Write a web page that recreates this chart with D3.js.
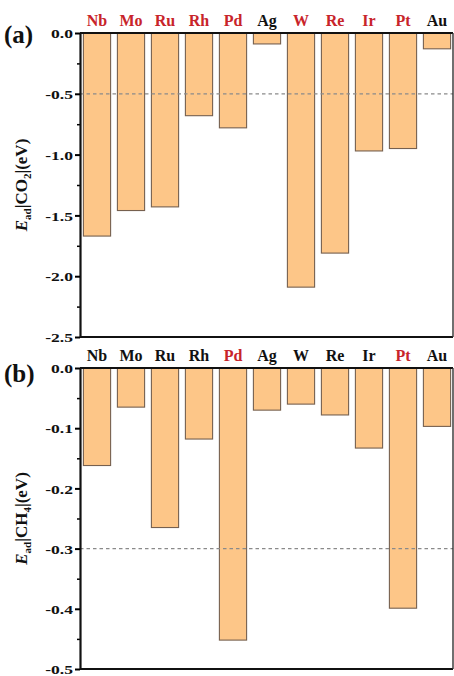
<!DOCTYPE html>
<html>
<head>
<meta charset="utf-8">
<script src="https://cdn.jsdelivr.net/npm/d3@7"></script>
<style>
  body { margin: 0; background: #fff; }
  svg text { font-family: "Liberation Serif", "DejaVu Serif", serif; font-weight: bold; }
</style>
</head>
<body>
<div id="chart"></div>
<script>
const width = 454
const height = 676

const metals = ["Nb", "Mo", "Ru", "Rh", "Pd", "Ag", "W", "Re", "Ir", "Pt", "Au"]
const co2Values = [-1.67, -1.46, -1.43, -0.68, -0.78, -0.09, -2.09, -1.81, -0.97, -0.95, -0.13]
const ch4Values = [-0.162, -0.065, -0.265, -0.118, -0.452, -0.07, -0.06, -0.078, -0.133, -0.399, -0.097]
const co2Red = ["Nb", "Mo", "Ru", "Rh", "Pd", "W", "Re", "Ir", "Pt"]
const ch4Red = ["Pd", "Pt"]
const co2Ticks = [0, -0.5, -1.0, -1.5, -2.0, -2.5]
const ch4Ticks = [0, -0.1, -0.2, -0.3, -0.4, -0.5]

const svg = d3.select("#chart")
    .append("svg")
    .attr("width", width)
    .attr("height", height)

const x = d3.scaleBand()
    .domain(metals)
    .range([80, 454])
    .paddingInner(0.2)
    .paddingOuter(0.1)

const tickFmt = d => d === 0 ? "0.0" : "-" + Math.abs(d).toFixed(1)
const sx = 1.35 // tick labels in the source are wide

function panel(cfg) {
    const y = d3.scaleLinear()
        .domain([0, cfg.min])
        .range([cfg.top, cfg.bottom])

    const g = svg.append("g")

    // bars
    g.selectAll("rect.bar")
        .data(metals)
        .enter()
        .append("rect")
        .attr("class", "bar")
        .attr("x", d => x(d))
        .attr("width", x.bandwidth())
        .attr("y", y(0))
        .attr("height", (d, i) => y(cfg.values[i]) - y(0))
        .attr("fill", "#fdc688")
        .attr("stroke", "#76604f")
        .attr("stroke-width", 1.1)

    // dashed reference line
    g.append("line")
        .attr("x1", 80)
        .attr("x2", 453)
        .attr("y1", y(cfg.ref))
        .attr("y2", y(cfg.ref))
        .attr("stroke", "#8a8a8a")
        .attr("stroke-width", 1.2)
        .attr("stroke-dasharray", "3.5,3")

    // frame
    g.append("line")
        .attr("x1", 80).attr("x2", 453)
        .attr("y1", y(0)).attr("y2", y(0))
        .attr("stroke", "#111").attr("stroke-width", 2)
    g.append("line")
        .attr("x1", 80).attr("x2", 453)
        .attr("y1", y(cfg.min)).attr("y2", y(cfg.min))
        .attr("stroke", "#111").attr("stroke-width", 2)
    g.append("line")
        .attr("x1", 453).attr("x2", 453)
        .attr("y1", y(0)).attr("y2", y(cfg.min))
        .attr("stroke", "#333").attr("stroke-width", 1.4)

    // y axis with major + minor ticks
    const minor = d3.range(0, cfg.ticks.length - 1)
        .map(i => (cfg.ticks[i] + cfg.ticks[i + 1]) / 2)
    g.append("g")
        .attr("transform", "translate(80,0)")
        .call(d3.axisLeft(y).tickValues(minor).tickSize(3).tickFormat(""))
        .call(a => a.select(".domain").remove())
        .call(a => a.selectAll("line").attr("stroke-width", 1.5))
    const axis = g.append("g")
        .attr("transform", "translate(80,0)")
        .call(d3.axisLeft(y).tickValues(cfg.ticks).tickSize(5).tickSizeOuter(0).tickFormat(tickFmt))
    axis.select(".domain").attr("stroke-width", 2.2).attr("stroke", "#111")
    axis.selectAll(".tick line").attr("stroke-width", 2)
    axis.selectAll(".tick text")
        .attr("font-size", 13)
        .attr("fill", "#111")
        .attr("transform", `scale(${sx},1)`)
        .attr("x", -7 / sx)
        .attr("dy", "0.36em")

    // category labels above
    g.selectAll("text.cat")
        .data(metals)
        .enter()
        .append("text")
        .attr("class", "cat")
        .attr("x", d => x(d) + x.bandwidth() / 2)
        .attr("y", cfg.top - 7)
        .attr("text-anchor", "middle")
        .attr("font-size", 16)
        .attr("fill", d => cfg.red.includes(d) ? "#c8242a" : "#111")
        .text(d => d)

    // panel letter
    g.append("text")
        .attr("x", 4)
        .attr("y", cfg.top + cfg.letterDy)
        .attr("font-size", 25)
        .attr("fill", "#111")
        .text(cfg.letter)

    // y title
    const t = g.append("text")
        .attr("transform", `translate(27,${(cfg.top + cfg.bottom) / 2}) rotate(-90)`)
        .attr("text-anchor", "middle")
        .attr("font-size", 17)
        .attr("fill", "#111")
    t.append("tspan").attr("font-style", "italic").text("E")
    t.append("tspan").attr("font-size", 11).attr("dy", 4).text("ad")
    t.append("tspan").attr("dy", -4).text("|" + cfg.mol)
    t.append("tspan").attr("font-size", 11).attr("dy", 4).text(cfg.sub)
    t.append("tspan").attr("dy", -4).text("|(eV)")
}

panel({ top: 33, bottom: 337, min: -2.5, values: co2Values, ticks: co2Ticks, ref: -0.5,
        red: co2Red, letter: "(a)", letterDy: 10, mol: "CO", sub: "2" })
panel({ top: 368, bottom: 669, min: -0.5, values: ch4Values, ticks: ch4Ticks, ref: -0.3,
        red: ch4Red, letter: "(b)", letterDy: 14, mol: "CH", sub: "4" })
</script>
</body>
</html>
